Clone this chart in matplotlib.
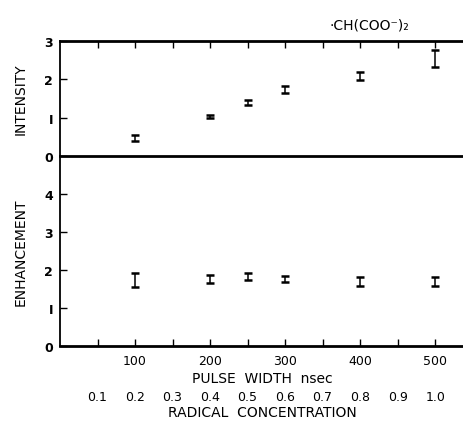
import numpy as np
import matplotlib
matplotlib.use('Agg')
import matplotlib.pyplot as plt

# --- dados ---
pulse_width = [100, 200, 250, 300, 400, 500]          # nsec
intensity = [0.48, 1.03, 1.40, 1.74, 2.08, 2.55]
intensity_err = [0.08, 0.05, 0.06, 0.09, 0.11, 0.22]
enhancement = [1.74, 1.77, 1.83, 1.76, 1.70, 1.70]
enhancement_err = [0.19, 0.10, 0.10, 0.07, 0.11, 0.11]

pw_ticks = np.arange(50, 540, 50)
conc_ticks = [0.1, 0.2, 0.3, 0.4, 0.5, 0.6, 0.7, 0.8, 0.9, 1.0]
pw_per_conc = 500.0   # 1.0 de concentração = 500 nsec

plt.rcParams['font.family'] = ['DejaVu Sans']
fs = 9        # números dos eixos
fl = 10       # rótulos

fig = plt.figure(figsize=(4.63, 4.27), dpi=100)
left, width = 0.1296, 0.875
ax1 = fig.add_axes([left, 0.6323, width, 0.2694])
ax2 = fig.add_axes([left, 0.1874, width, 0.4449])

eb = dict(fmt='none', ecolor='black', elinewidth=1.1, capsize=3, capthick=1.8)
ax1.errorbar(pulse_width, intensity, yerr=intensity_err, **eb)
ax2.errorbar(pulse_width, enhancement, yerr=enhancement_err, **eb)

for ax in (ax1, ax2):
    ax.set_xlim(0, 540)
    ax.spines['right'].set_visible(False)
    ax.spines['left'].set_linewidth(1.3)
    ax.set_xticks(pw_ticks)
    ax.tick_params(axis='both', direction='in', length=5, width=1,
                   labelsize=fs, colors='black')

# painel superior
ax1.set_ylim(0, 3)
ax1.set_yticks([0, 1, 2, 3])
ax1.set_yticklabels(['0', 'I', '2', '3'], fontweight='bold')
ax1.spines['top'].set_linewidth(2)
ax1.spines['bottom'].set_visible(False)
ax1.tick_params(axis='x', top=True, bottom=False, labelbottom=False)
ax1.tick_params(axis='y', pad=5)
ax1.set_ylabel('INTENSITY', fontsize=fl, labelpad=12)
ax1.text(0.665, 1.14, '·CH(COO⁻)₂', transform=ax1.transAxes,
         ha='left', va='center', fontsize=fl)

# painel inferior
ax2.set_ylim(0, 5)
ax2.set_yticks([0, 1, 2, 3, 4])
ax2.set_yticklabels(['0', 'I', '2', '3', '4'], fontweight='bold')
ax2.spines['top'].set_linewidth(2)
ax2.spines['bottom'].set_linewidth(2)
ax2.tick_params(axis='x', top=False, bottom=True, pad=6)
ax2.tick_params(axis='y', pad=5)
ax2.set_xticklabels(['' if v % 100 else str(int(v)) for v in pw_ticks])
ax2.set_xlabel('PULSE  WIDTH  nsec', fontsize=fl, labelpad=3)
ax2.set_ylabel('ENHANCEMENT', fontsize=fl, labelpad=12)

# segundo eixo: concentração de radicais
sec = ax2.secondary_xaxis(-0.215, functions=(lambda x: x / pw_per_conc,
                                             lambda c: c * pw_per_conc))
sec.set_xticks(conc_ticks)
sec.set_xticklabels([f'{c:.1f}' for c in conc_ticks])
sec.spines['bottom'].set_visible(False)
sec.tick_params(length=0, labelsize=fs, pad=2)
sec.set_xlabel('RADICAL  CONCENTRATION', fontsize=fl, labelpad=2)

fig.savefig('out.png', dpi=100)
